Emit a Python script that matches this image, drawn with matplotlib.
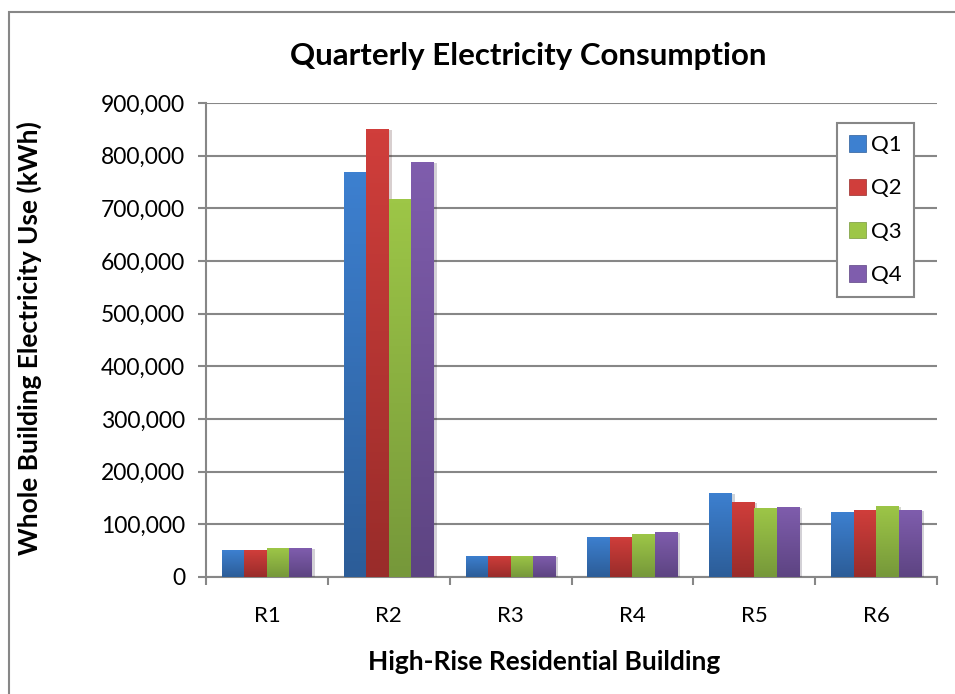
import matplotlib
matplotlib.use("Agg")
import matplotlib.pyplot as plt
import numpy as np
from matplotlib.colors import LinearSegmentedColormap
from matplotlib.patches import Rectangle, Patch
from matplotlib.ticker import FuncFormatter, FixedLocator
import matplotlib.patheffects as pe

buildings = ["R1", "R2", "R3", "R4", "R5", "R6"]
quarters = ["Q1", "Q2", "Q3", "Q4"]
q1 = [51000, 769000, 40000, 76000, 159500, 123500]
q2 = [51000, 850500, 40000, 76000, 142500, 127000]
q3 = [55000, 717500, 40000, 81500, 131000, 135000]
q4 = [55000, 788000, 40000, 85500, 133000, 127000]

# (top colour, bottom colour) for the Excel style gradient
colors = [("#3D80D0", "#2C5D98"), ("#D03E3B", "#992C2A"),
          ("#9DC647", "#76983A"), ("#7F5DAD", "#5D4482")]

plt.rcParams['font.family'] = ['Lato', 'DejaVu Sans']

fig = plt.figure(figsize=(9.55, 6.94), dpi=100)
ax = fig.add_axes([0.2157, 0.1686, 0.9812 - 0.2157, 0.8516 - 0.1686])

series = [q1, q2, q3, q4]
x = np.arange(len(buildings))
w = 0.185
for i, vals in enumerate(series):
    pos = x + (i - 1.5) * w
    bars = ax.bar(pos, vals, w, color=colors[i][0], zorder=3,
                  path_effects=[pe.SimplePatchShadow(offset=(2, -1), alpha=0.2), pe.Normal()])
    cmap = LinearSegmentedColormap.from_list("g%d" % i, [colors[i][1], colors[i][0]])
    grad = np.linspace(0, 1, 100).reshape(-1, 1)
    for b in bars:
        im = ax.imshow(grad, extent=[b.get_x(), b.get_x() + b.get_width(), 0, b.get_height()],
                       origin="lower", aspect="auto", cmap=cmap, zorder=4)
        im.set_clip_path(b)

ax.set_xlim(-0.5, len(buildings) - 0.5)
ax.set_ylim(0, 900000)
ax.set_yticks(np.arange(0, 900001, 100000))
ax.yaxis.set_major_formatter(FuncFormatter(lambda v, p: f"{int(v):,}"))
ax.set_xticks(x)
ax.set_xticklabels(buildings)
ax.xaxis.set_minor_locator(FixedLocator(np.arange(-0.5, len(buildings), 1.0)))
ax.tick_params(axis="x", which="major", length=0, pad=21, labelsize=16)
ax.tick_params(axis="x", which="minor", length=6, width=1.5, color="#878787")
ax.tick_params(axis="y", length=6, width=1.5, color="#878787", labelsize=16.5, pad=9)

ax.grid(axis="y", color="#878787", lw=1.5, zorder=0)
ax.set_axisbelow(True)
for s in ["top", "right"]:
    ax.spines[s].set_visible(False)
for s in ["left", "bottom"]:
    ax.spines[s].set_color("#878787")
    ax.spines[s].set_linewidth(1.5)

fig.text(528 / 955, 1 - 56 / 694, "Quarterly Electricity Consumption",
         fontsize=22.5, fontweight="bold", ha="center", va="center")
fig.text(544 / 955, 1 - 662 / 694, "High-Rise Residential Building",
         fontsize=19, fontweight="bold", ha="center", va="center")
fig.text(29 / 955, 1 - 338 / 694, "Whole Building Electricity Use (kWh)",
         fontsize=19, fontweight="bold", ha="center", va="center", rotation=90)

handles = [Patch(facecolor=colors[i][0], edgecolor=colors[i][1], lw=0.5) for i in range(4)]
leg = ax.legend(handles, quarters, loc="upper right", bbox_to_anchor=(0.9685, 0.958),
                fontsize=16, fancybox=False, framealpha=1, edgecolor="#878787",
                labelspacing=1.05, handlelength=0.75, handleheight=0.75, handletextpad=0.25,
                borderpad=0.55, borderaxespad=0)
leg.get_frame().set_linewidth(1.5)

fig.patches.append(Rectangle((9 / 955, -0.1), 1.2, 1 - 12 / 694 + 0.1,
                             transform=fig.transFigure, fill=False,
                             edgecolor="#878787", lw=1.5))

fig.savefig("out.png", dpi=100)
